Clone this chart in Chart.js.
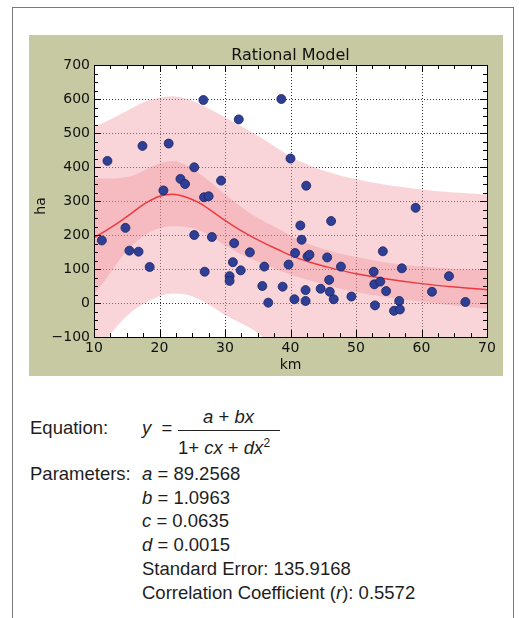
<!DOCTYPE html>
<html>
<head>
<meta charset="utf-8">
<script src="https://cdn.jsdelivr.net/npm/chart.js@4.4.0/dist/chart.umd.min.js"></script>
<style>
    body { margin: 0; width: 519px; height: 618px; background: #fff; position: relative; overflow: hidden; }
    #frame { position: absolute; left: 12px; top: 7px; width: 500px; height: 640px; border: 1px solid #7a7a7a; }
    #panel { position: absolute; left: 29px; top: 35px; width: 474px; height: 341px; background: #c6c9a2; }
    .txt { position: absolute; font-family: "Liberation Sans", Arial, sans-serif; font-size: 18.5px; line-height: 20px; color: #1e1e1e; white-space: nowrap; }
    .txt i { font-style: italic; }
    #fracline { position: absolute; left: 178px; top: 430px; width: 102px; height: 1px; background: #222; }
</style>
</head>
<body>
<div id="frame"></div>
<div id="panel"><canvas id="chart" width="474" height="341"></canvas></div>

<div class="txt" style="left:30px; top:418px;">Equation:</div>
<div class="txt" style="left:142px; top:418px;"><i>y</i> &nbsp;=</div>
<div class="txt" style="left:203px; top:407px;"><i>a</i> + <i>bx</i></div>
<div id="fracline"></div>
<div class="txt" style="left:178px; top:433px;">1+ <i>cx</i> + <i>dx</i><sup style="font-size:12px; vertical-align:7px;">2</sup></div>
<div class="txt" style="left:30px; top:464px;">Parameters:</div>
<div class="txt" style="left:142px; top:464px;"><i>a</i> = 89.2568</div>
<div class="txt" style="left:142px; top:488px;"><i>b</i> = 1.0963</div>
<div class="txt" style="left:142px; top:511px;"><i>c</i> = 0.0635</div>
<div class="txt" style="left:142px; top:535px;"><i>d</i> = 0.0015</div>
<div class="txt" style="left:142px; top:559px;">Standard Error: 135.9168</div>
<div class="txt" style="left:142px; top:583px;">Correlation Coefficient (<i>r</i>): 0.5572</div>

<script>
// Observed points (km, ha)
var obsKm = [11.2, 12.05, 14.8, 15.4, 16.8, 17.4, 18.5, 20.6, 21.4, 23.2, 23.9, 25.3, 25.3, 26.7, 26.8, 26.9,
    27.5, 28.0, 29.4, 30.7, 30.7, 31.2, 31.4, 32.1, 32.4, 33.8, 35.7, 36.0, 36.6, 38.6, 38.8, 39.7,
    40.0, 40.6, 40.7, 41.5, 41.7, 42.3, 42.3, 42.4, 42.6, 42.9, 44.6, 45.6, 45.9, 46.0, 46.2, 46.6,
    47.7, 49.3, 52.7, 52.8, 52.9, 53.7, 54.1, 54.6, 55.8, 56.6, 56.7, 57.0, 59.1, 61.6, 64.2, 66.7];
var obsHa = [184, 418, 221, 154, 151, 462, 106, 331, 469, 365, 350, 399, 200, 597, 311, 92,
    314, 194, 360, 79, 65, 120, 176, 540, 96, 149, 50, 107, 1, 600, 48, 113,
    425, 11, 147, 228, 186, 38, 6, 345, 137, 142, 42, 134, 68, 33, 241, 11,
    107, 19, 92, 55, -7, 63, 152, 35, -23, 6, -19, 102, 280, 33, 79, 3];

// Fitted curve and bands
var bandKm = [10, 12, 14, 16, 18, 20, 22, 24, 26, 28, 30, 32, 34, 36, 38, 40, 43, 46, 50, 55, 60, 65, 70];
var fitHa = [192, 215, 240, 268, 295, 314, 320, 312, 295, 270, 243, 218, 196, 176, 158, 140, 120, 104, 86, 70, 57, 47, 39];
var innerUpper = [366, 366, 368, 375, 393, 410, 418, 406, 382, 352, 320, 290, 262, 240, 220, 198, 172, 153, 135, 118, 107, 100, 96];
var innerLower = [25, 75, 130, 172, 203, 220, 226, 224, 214, 194, 170, 148, 130, 114, 98, 84, 66, 50, 32, 16, 4, -7, -17];
var outerUpper = [518, 535, 555, 575, 594, 604, 608, 601, 587, 567, 546, 524, 503, 480, 455, 430, 404, 384, 364, 346, 334, 325, 319];
var outerLower = [-160, -105, -58, -22, 2, 20, 28, 25, 12, -10, -35, -55, -75, -103, -128, -150, -172, -188, -200, -212, -220, -228, -234];

var xTicks = [10, 20, 30, 40, 50, 60, 70];
var yTicks = [-100, 0, 100, 200, 300, 400, 500, 600, 700];

function toPoints(xs, ys) {
    return xs.map(function (x, i) { return { x: x, y: ys[i] }; });
}

// Function to make a band edge dataset
function bandLine(ys, fill, color, order) {
    return {
        data: toPoints(bandKm, ys),
        borderWidth: 0,
        pointRadius: 0,
        fill: fill,
        backgroundColor: color,
        cubicInterpolationMode: 'monotone',
        order: order
    };
}

// White plot area, grid, spines, inward ticks and labels like matplotlib
var axesPlugin = {
    id: 'axesPlugin',
    beforeDatasetsDraw: function (chart) {
        var ctx = chart.ctx, a = chart.chartArea;
        var xs = chart.scales.x, ys = chart.scales.y;
        ctx.save();
        ctx.fillStyle = '#fff';
        ctx.fillRect(a.left, a.top, a.right - a.left, a.bottom - a.top);
        ctx.strokeStyle = '#333';
        ctx.lineWidth = 1;
        ctx.setLineDash([1, 2]);
        xTicks.forEach(function (v) {
            var px = Math.round(xs.getPixelForValue(v)) + 0.5;
            ctx.beginPath(); ctx.moveTo(px, a.top); ctx.lineTo(px, a.bottom); ctx.stroke();
        });
        yTicks.forEach(function (v) {
            var py = Math.round(ys.getPixelForValue(v)) + 0.5;
            ctx.beginPath(); ctx.moveTo(a.left, py); ctx.lineTo(a.right, py); ctx.stroke();
        });
        ctx.restore();
    },
    afterDatasetsDraw: function (chart) {
        var ctx = chart.ctx, a = chart.chartArea;
        var xs = chart.scales.x, ys = chart.scales.y;
        ctx.save();
        ctx.strokeStyle = '#000';
        ctx.lineWidth = 1;
        ctx.strokeRect(Math.round(a.left) + 0.5, Math.round(a.top) + 0.5, Math.round(a.right - a.left), Math.round(a.bottom - a.top));
        // x ticks every 2.5 km, y ticks every 25 ha
        for (var v = 10; v <= 70; v += 2.5) {
            var len = v % 10 === 0 ? 7 : 4;
            var px = Math.round(xs.getPixelForValue(v)) + 0.5;
            ctx.beginPath();
            ctx.moveTo(px, a.bottom); ctx.lineTo(px, a.bottom - len);
            ctx.moveTo(px, a.top); ctx.lineTo(px, a.top + len);
            ctx.stroke();
        }
        for (var w = -100; w <= 700; w += 25) {
            var len2 = w % 100 === 0 ? 7 : 4;
            var py = Math.round(ys.getPixelForValue(w)) + 0.5;
            ctx.beginPath();
            ctx.moveTo(a.left, py); ctx.lineTo(a.left + len2, py);
            ctx.moveTo(a.right, py); ctx.lineTo(a.right - len2, py);
            ctx.stroke();
        }
        // title and axis titles
        ctx.fillStyle = '#111';
        ctx.textAlign = 'center';
        ctx.textBaseline = 'alphabetic';
        ctx.font = '16px "DejaVu Sans"';
        ctx.fillText('Rational Model', (a.left + a.right) / 2, 25);
        ctx.font = '14px "DejaVu Sans"';
        ctx.fillText('km', (a.left + a.right) / 2, 334);
        ctx.translate(16, (a.top + a.bottom) / 2 + 5);
        ctx.rotate(-Math.PI / 2);
        ctx.fillText('ha', 0, 0);
        ctx.restore();
    }
};

new Chart(document.getElementById('chart'), {
    type: 'line',
    data: {
        datasets: [
            {
                data: toPoints(obsKm, obsHa),
                showLine: false,
                pointRadius: 4.5,
                pointBackgroundColor: '#2f3f96',
                pointBorderColor: '#1a2260',
                pointBorderWidth: 0.8,
                order: 0
            },
            {
                data: toPoints(bandKm, fitHa),
                borderColor: '#ee3a3e',
                borderWidth: 1.5,
                pointRadius: 0,
                fill: false,
                cubicInterpolationMode: 'monotone',
                order: 1
            },
            bandLine(innerUpper, '+1', 'rgba(235,130,140,0.30)', 2),
            bandLine(innerLower, false, 'rgba(0,0,0,0)', 3),
            bandLine(outerUpper, '+1', 'rgba(242,160,168,0.45)', 4),
            bandLine(outerLower, false, 'rgba(0,0,0,0)', 5)
        ]
    },
    options: {
        responsive: false,
        animation: false,
        devicePixelRatio: 1,
        layout: { padding: { left: 0, top: 30, right: 16, bottom: 0 } },
        plugins: { legend: { display: false }, tooltip: { enabled: false } },
        scales: {
            x: {
                type: 'linear',
                min: 10,
                max: 70,
                afterFit: function (s) { s.height = 39; },
                grid: { display: false, drawTicks: false },
                border: { display: false },
                ticks: { stepSize: 10, padding: 3, maxRotation: 0, color: '#111', font: { family: 'DejaVu Sans', size: 14 } }
            },
            y: {
                min: -100,
                max: 700,
                afterFit: function (s) { s.width = 65; },
                grid: { display: false, drawTicks: false },
                border: { display: false },
                ticks: {
                    stepSize: 100,
                    padding: 4,
                    color: '#111',
                    font: { family: 'DejaVu Sans', size: 14 },
                    callback: function (v) { return v < 0 ? '\u2212' + (-v) : v; }
                }
            }
        }
    },
    plugins: [axesPlugin]
});
</script>
</body>
</html>
